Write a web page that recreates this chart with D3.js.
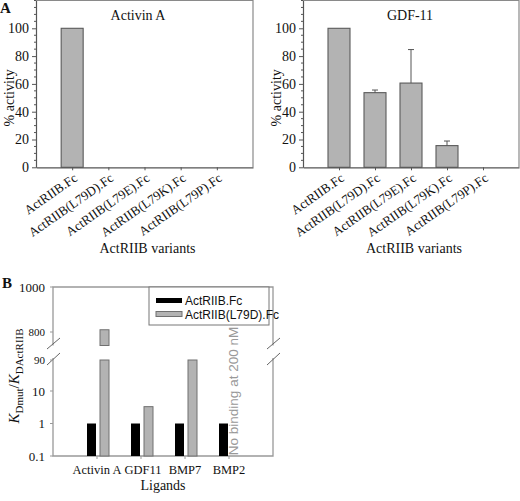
<!DOCTYPE html>
<html><head><meta charset="utf-8">
<script src="https://cdn.jsdelivr.net/npm/d3@7"></script>
<style>
body{margin:0;background:#fff;}
svg{display:block;}
</style></head><body>
<svg id="c" width="520" height="501"></svg>
<script>
// ---------- DATA ----------
const variants = ["ActRIIB.Fc","ActRIIB(L79D).Fc","ActRIIB(L79E).Fc","ActRIIB(L79K).Fc","ActRIIB(L79P).Fc"];
const activinValues = [100, 0, 0, 0, 0];
const gdf11Values = [100, 53.7, 60.6, 15.6, 0];
const gdf11Errors = [0, 1.9, 24.1, 3.3, 0];
const activityTicks = [0, 20, 40, 60, 80, 100];

const ligands = ["Activin A","GDF11","BMP7","BMP2"];
const wtKdRatio = [1, 1, 1, 1];
const l79dKdRatio = [810, 3.3, 90, null];
const lowerTicks = [0.1, 1, 10, 90];
const upperTicks = [800, 1000];
const seriesNames = ["ActRIIB.Fc","ActRIIB(L79D).Fc"];

// ---------- DRAW ----------
const SERIF = "Liberation Serif";
const SANS = "Liberation Sans";
const svg = d3.select("#c");
const gray = "#b3b3b3", frameCol = "#8a8a8a", axisCol = "#555", ink = "#111";
function txt(sel, size, fam) {
  return sel.append("text").attr("font-family", fam || SERIF).attr("font-size", size).attr("fill", ink);
}

function panelA(x0, x1, title, values, errors, titleX) {
  const g = svg.append("g");
  const x = d3.scaleLinear().domain([0, 6]).range([x0, x1]);
  const y = d3.scaleLinear().domain([0, 120]).range([167.3, 0.5]);
  g.append("path").attr("d", `M${x0},0.5H${x1}V${y(0)}`).attr("fill","none").attr("stroke",frameCol).attr("stroke-width",1.2);
  const bw = 22;
  g.selectAll("rect.bar").data(values).join("rect")
    .attr("x",(d,i)=>x(i+1)-bw/2).attr("width",bw)
    .attr("y",d=>y(d)).attr("height",d=>y(0)-y(d))
    .attr("fill",gray).attr("stroke","#5a5a5a").attr("stroke-width",1.1)
    .attr("display",d=>d>0?null:"none");
  if (errors) {
    errors.forEach((e,i)=>{
      if (e>0) {
        const cx = x(i+1);
        g.append("line").attr("x1",cx).attr("x2",cx).attr("y1",y(values[i])).attr("y2",y(values[i]+e)).attr("stroke","#555");
        g.append("line").attr("x1",cx-3).attr("x2",cx+3).attr("y1",y(values[i]+e)).attr("y2",y(values[i]+e)).attr("stroke","#555");
      }
    });
  }
  const ya = d3.axisLeft(y).tickValues(activityTicks).tickSize(4).tickSizeOuter(0);
  const yg = g.append("g").attr("transform",`translate(${x0},0)`).call(ya).attr("font-family",SERIF).attr("font-size",14);
  yg.select(".domain").attr("stroke",axisCol).attr("stroke-width",1.2);
  yg.selectAll(".tick line").attr("stroke",axisCol);
  yg.selectAll(".tick text").attr("x",-7).attr("fill",ink);
  d3.range(0,121,5).filter(v=>v%20!==0||v===120).forEach(v=>{
    g.append("line").attr("x1",x0-2).attr("x2",x0).attr("y1",y(v)).attr("y2",y(v)).attr("stroke",axisCol);
  });
  const xa = d3.axisBottom(x).tickValues([1,2,3,4,5]).tickSize(3).tickSizeOuter(0).tickFormat("");
  const xg = g.append("g").attr("transform",`translate(0,${y(0)})`).call(xa);
  xg.select(".domain").attr("stroke",axisCol).attr("stroke-width",1.2);
  xg.selectAll(".tick line").attr("stroke",axisCol);
  variants.forEach((v,i)=>{
    txt(g,13).attr("text-anchor","end")
      .attr("transform",`translate(${x(i+1)+6},180) rotate(-35)`).text(v);
  });
  txt(g,14).attr("x",titleX).attr("y",20).attr("text-anchor","middle").text(title);
  txt(g,14).attr("x",(x0+x1)/2 + 3).attr("y",253).attr("text-anchor","middle").text("ActRIIB variants");
  txt(g,14).attr("transform",`translate(${x0-22},${y(50)}) rotate(-90)`).attr("text-anchor","middle").text("% activity");
}
panelA(36, 253, "Activin A", activinValues, null, 138);
panelA(303, 519, "GDF-11", gdf11Values, gdf11Errors, 410);

txt(svg,15).attr("x",0).attr("y",13).attr("font-weight","bold").text("A");

// ---------- Panel B ----------
const bx0 = 53, bx1 = 273;
const xb = d3.scaleLinear().domain([0,5]).range([bx0,bx1]);
const yLow = d3.scaleLog().domain([0.1, 90]).range([456, 360]);
const yUp = d3.scaleLinear().domain([740, 1000]).range([345.5, 287]);
const gb = svg.append("g");
const bCol = "#999";
gb.append("path").attr("d",`M${bx0},${yUp.range()[0]}V287H${bx1}V${yUp.range()[0]}`).attr("fill","none").attr("stroke",bCol).attr("stroke-width",1.3);
gb.append("path").attr("d",`M${bx0},358V456H${bx1}V358`).attr("fill","none").attr("stroke",bCol).attr("stroke-width",1.3);
[bx0, bx1].forEach(bx=>{
  [[349,338],[365,353]].forEach(([ya,yb])=>{
    gb.append("line").attr("x1",bx-6).attr("y1",ya).attr("x2",bx+7).attr("y2",yb).attr("stroke","#666").attr("stroke-width",1);
  });
});
const bw2 = 9;
ligands.forEach((l,i)=>{
  const c = xb(i+1);
  const v1 = wtKdRatio[i];
  gb.append("rect").attr("x",c-10).attr("width",bw2).attr("y",yLow(v1)).attr("height",yLow(0.1)-yLow(v1)).attr("fill","#000");
  const v2 = l79dKdRatio[i];
  if (v2 != null) {
    const lowTop = Math.min(v2, 90);
    gb.append("rect").attr("x",c+3).attr("width",bw2).attr("y",yLow(lowTop)).attr("height",yLow(0.1)-yLow(lowTop))
      .attr("fill",gray).attr("stroke","#707070").attr("stroke-width",1);
    if (v2 > 740) {
      gb.append("rect").attr("x",c+3).attr("width",bw2).attr("y",yUp(v2)).attr("height",yUp(740)-yUp(v2))
        .attr("fill",gray).attr("stroke","#707070").attr("stroke-width",1);
    }
  }
});
lowerTicks.forEach(t=>{
  gb.append("line").attr("x1",bx0-3).attr("x2",bx0).attr("y1",yLow(t)).attr("y2",yLow(t)).attr("stroke",bCol);
  txt(gb, t===90?11:13).attr("x",bx0-8).attr("y",yLow(t)).attr("dy","0.35em").attr("text-anchor","end").text(t);
});
upperTicks.forEach(t=>{
  gb.append("line").attr("x1",bx0-3).attr("x2",bx0).attr("y1",yUp(t)).attr("y2",yUp(t)).attr("stroke",bCol);
  txt(gb, t===800?11:13).attr("x",bx0-8).attr("y",yUp(t)).attr("dy","0.35em").attr("text-anchor","end").text(t);
});
ligands.forEach((l,i)=>{
  gb.append("line").attr("x1",xb(i+1)).attr("x2",xb(i+1)).attr("y1",456).attr("y2",459).attr("stroke",bCol);
  txt(gb,12.5).attr("x",xb(i+1)+(i===1?2:0)).attr("y",474).attr("text-anchor","middle").text(l);
});
txt(gb,14).attr("x",163).attr("y",490).attr("text-anchor","middle").text("Ligands");
txt(gb,13.5,SANS).attr("transform",`translate(238,391) rotate(-90)`).attr("text-anchor","middle")
  .attr("fill","#999").text("No binding at 200 nM");
const lg = gb.append("g");
lg.append("rect").attr("x",149).attr("y",287).attr("width",120).attr("height",38).attr("fill","#fff").attr("stroke","#777").attr("stroke-width",1);
seriesNames.forEach((s,i)=>{
  lg.append("rect").attr("x",156).attr("y",298+i*13.5).attr("width",26).attr("height",5)
    .attr("fill",i===0?"#000":gray).attr("stroke",i===0?"none":"#707070");
  txt(lg,12,SANS).attr("x",185).attr("y",305+i*13.5).text(s);
});
const yl = txt(gb,15).attr("transform","translate(19,376) rotate(-90)").attr("text-anchor","middle");
yl.append("tspan").attr("font-style","italic").text("K");
yl.append("tspan").attr("font-size",11).attr("dy",4).text("Dmut");
yl.append("tspan").attr("dy",-4).text("/");
yl.append("tspan").attr("font-style","italic").text("K");
yl.append("tspan").attr("font-size",11).attr("dy",4).text("DActRIIB");

txt(svg,15).attr("x",2).attr("y",288).attr("font-weight","bold").text("B");
</script>
</body></html>
